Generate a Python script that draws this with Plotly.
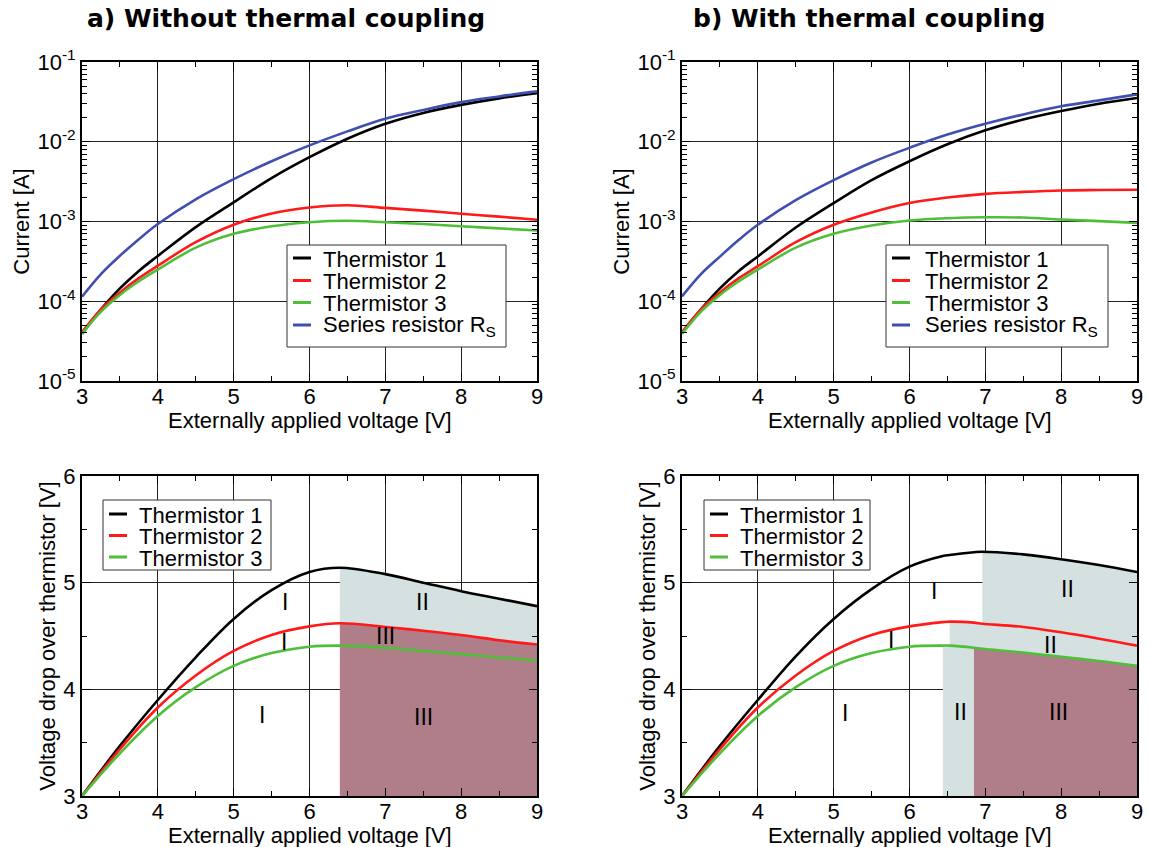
import plotly.graph_objects as go

# ---------------- data ----------------
v_top = [3, 3.25, 3.5, 3.75, 4, 4.5, 5, 5.5, 6, 6.5, 7, 7.5, 8, 8.5, 9]

# a) without thermal coupling: currents [A]
ia_t1 = [3.9e-5, 7.9e-5, 1.45e-4, 2.4e-4, 3.7e-4, 8.5e-4, 1.74e-3, 3.5e-3, 6.4e-3, 1.09e-2, 1.68e-2, 2.3e-2, 2.9e-2, 3.5e-2, 4.07e-2]
ia_t2 = [4.1e-5, 7.9e-5, 1.29e-4, 1.95e-4, 2.79e-4, 5.5e-4, 9.1e-4, 1.26e-3, 1.5e-3, 1.6e-3, 1.48e-3, 1.37e-3, 1.25e-3, 1.15e-3, 1.05e-3]
ia_t3 = [3.9e-5, 7.4e-5, 1.2e-4, 1.78e-4, 2.5e-4, 4.7e-4, 7.0e-4, 8.7e-4, 9.8e-4, 1.02e-3, 9.8e-4, 9.3e-4, 8.7e-4, 8.2e-4, 7.7e-4]
ia_rs = [1.14e-4, 2.19e-4, 3.72e-4, 6.0e-4, 9.3e-4, 1.9e-3, 3.4e-3, 5.7e-3, 9.0e-3, 1.35e-2, 1.94e-2, 2.5e-2, 3.14e-2, 3.7e-2, 4.28e-2]

# b) with thermal coupling: currents [A]
ib_t1 = [4.0e-5, 7.9e-5, 1.45e-4, 2.4e-4, 3.65e-4, 8.4e-4, 1.7e-3, 3.3e-3, 5.7e-3, 9.3e-3, 1.39e-2, 1.9e-2, 2.43e-2, 3.0e-2, 3.54e-2]
ib_t2 = [4.1e-5, 7.9e-5, 1.29e-4, 1.95e-4, 2.75e-4, 5.5e-4, 9.1e-4, 1.3e-3, 1.71e-3, 2.0e-3, 2.22e-3, 2.35e-3, 2.45e-3, 2.48e-3, 2.5e-3]
ib_t3 = [3.9e-5, 7.4e-5, 1.2e-4, 1.78e-4, 2.5e-4, 4.7e-4, 7.0e-4, 8.9e-4, 1.03e-3, 1.1e-3, 1.13e-3, 1.12e-3, 1.06e-3, 1.01e-3, 9.6e-4]
ib_rs = [1.15e-4, 2.19e-4, 3.63e-4, 5.9e-4, 9.1e-4, 1.85e-3, 3.3e-3, 5.5e-3, 8.4e-3, 1.23e-2, 1.68e-2, 2.2e-2, 2.78e-2, 3.3e-2, 3.93e-2]

# a) voltage drop over thermistor [V]
v_a = [3, 3.5, 4, 4.5, 5, 5.5, 6, 6.4, 7, 7.5, 8, 8.5, 9]
ua_t1 = [3.0, 3.47, 3.90, 4.30, 4.66, 4.93, 5.10, 5.14, 5.08, 5.00, 4.92, 4.85, 4.78]
ua_t2 = [3.0, 3.44, 3.83, 4.13, 4.36, 4.51, 4.59, 4.62, 4.585, 4.55, 4.51, 4.46, 4.42]
ua_t3 = [3.0, 3.40, 3.75, 4.02, 4.22, 4.34, 4.40, 4.41, 4.39, 4.36, 4.33, 4.30, 4.27]
a_start = 6.4  # onset of regions II / III (all thermistors)

# b) voltage drop over thermistor [V]
v_b = [3, 3.5, 4, 4.5, 5, 5.5, 6, 6.44, 6.53, 6.85, 6.96, 7.5, 8, 8.5, 9]
ub_t1 = [3.0, 3.47, 3.90, 4.31, 4.66, 4.94, 5.15, 5.25, 5.26, 5.285, 5.29, 5.265, 5.22, 5.165, 5.10]
ub_t2 = [3.0, 3.44, 3.83, 4.13, 4.36, 4.51, 4.59, 4.63, 4.635, 4.625, 4.615, 4.585, 4.535, 4.475, 4.41]
ub_t3 = [3.0, 3.40, 3.75, 4.02, 4.22, 4.34, 4.40, 4.41, 4.41, 4.39, 4.38, 4.345, 4.305, 4.265, 4.22]
b_t1_II = 6.96
b_t2_II = 6.53
b_t3_II = 6.44
b_t3_III = 6.85

names = ["Thermistor 1", "Thermistor 2", "Thermistor 3", "Series resistor R<sub>S</sub>"]
colors = ["#000000", "#ff1a1a", "#4fbf3a", "#3f4faf"]
col_II = "#d5e0e0"
col_III = "#b07e88"

log_vals = [1e-5, 1e-4, 1e-3, 1e-2, 1e-1]
log_text = ["10<sup>-5</sup>", "10<sup>-4</sup>", "10<sup>-3</sup>", "10<sup>-2</sup>", "10<sup>-1</sup>"]
log_minor = [m * 10 ** e for e in range(-5, -1) for m in range(2, 10)]

# region labels: (x, y, text)
lab_a = [(5.68, 4.82, "I"), (5.67, 4.44, "I"), (5.38, 3.76, "I"),
         (7.49, 4.82, "II"), (7.0, 4.50, "III"), (7.5, 3.74, "III")]
lab_b = [(6.32, 4.92, "I"), (8.08, 4.94, "II"), (5.75, 4.46, "I"), (7.86, 4.42, "II"),
         (5.15, 3.78, "I"), (6.67, 3.79, "II"), (7.97, 3.79, "III")]

W, H = 1150, 847
FONT = "Liberation Sans, Arial, sans-serif"

fig = go.Figure()


def sub(xs, ys, x0, x1=99):
    pts = [(x, y) for x, y in zip(xs, ys) if x0 - 1e-9 <= x <= x1 + 1e-9]
    return [p[0] for p in pts], [p[1] for p in pts]


def fill_trace(xs, ys, xa, ya, fill=None, color=None):
    fig.add_trace(go.Scatter(x=xs, y=ys, xaxis=xa, yaxis=ya, mode="lines",
                             line=dict(width=0, shape="spline", color="rgba(0,0,0,0)"),
                             fill=fill if fill else "none", fillcolor=color,
                             showlegend=False, hoverinfo="skip"))


# ----- top panels -----
for xa, ya, series in [("x", "y", [ia_t1, ia_t2, ia_t3, ia_rs]),
                       ("x2", "y2", [ib_t1, ib_t2, ib_t3, ib_rs])]:
    for s, n, c in zip(series, names, colors):
        fig.add_trace(go.Scatter(x=v_top, y=s, xaxis=xa, yaxis=ya, mode="lines", name=n,
                                 line=dict(color=c, width=2.6, shape="spline"), showlegend=False))

# ----- bottom-left fills -----
xs, ys = sub(v_a, ua_t2, a_start)
fill_trace(xs, ys, "x3", "y3", "tozeroy", col_III)
xs, ys = sub(v_a, ua_t1, a_start)
fill_trace(xs, ys, "x3", "y3", "tonexty", col_II)

# ----- bottom-right fills -----
xs, ys = sub(v_b, ub_t3, b_t3_II, b_t3_III)
fill_trace(xs, ys, "x4", "y4", "tozeroy", col_II)
xs, ys = sub(v_b, ub_t3, b_t3_III)
fill_trace(xs, ys, "x4", "y4", "tozeroy", col_III)
xs, ys = sub(v_b, ub_t3, b_t2_II)
fill_trace(xs, ys, "x4", "y4")
xs, ys = sub(v_b, ub_t2, b_t2_II)
fill_trace(xs, ys, "x4", "y4", "tonexty", col_II)
xs, ys = sub(v_b, ub_t2, b_t1_II)
fill_trace(xs, ys, "x4", "y4")
xs, ys = sub(v_b, ub_t1, b_t1_II)
fill_trace(xs, ys, "x4", "y4", "tonexty", col_II)

# ----- bottom lines -----
for xa, ya, vx, series in [("x3", "y3", v_a, [ua_t1, ua_t2, ua_t3]),
                           ("x4", "y4", v_b, [ub_t1, ub_t2, ub_t3])]:
    for s, n, c in zip(series, names, colors):
        fig.add_trace(go.Scatter(x=vx, y=s, xaxis=xa, yaxis=ya, mode="lines", name=n,
                                 line=dict(color=c, width=2.6, shape="spline"), showlegend=False))

# ----- axes -----
xdom = [[82 / W, 537 / W], [682 / W, 1137 / W]]
ydom_top = [1 - 381 / H, 1 - 62 / H]
ydom_bot = [1 - 796 / H, 1 - 476 / H]

common = dict(showline=True, linecolor="black", linewidth=2, mirror="ticks",
              ticks="inside", ticklen=8, tickwidth=1, tickcolor="black",
              showgrid=True, gridcolor="#222222", gridwidth=1, zeroline=False,
              automargin=False,
              tickfont=dict(family=FONT, size=22, color="black"))

TF = dict(family=FONT, size=22, color="black")
xaxis_kw = dict(range=[3, 9], tickvals=[3, 4, 5, 6, 7, 8, 9], ticklabelstandoff=-5,
                minor=dict(ticks="inside", ticklen=5, tickcolor="black", dtick=0.5, showgrid=False),
                **common)

layout = dict(width=W, height=H, margin=dict(l=0, r=0, t=0, b=0, autoexpand=False),
              plot_bgcolor="white", paper_bgcolor="white", showlegend=False,
              font=dict(family=FONT, color="black"))

layout["xaxis"] = dict(domain=xdom[0], anchor="y", **xaxis_kw)
layout["xaxis2"] = dict(domain=xdom[1], anchor="y2", **xaxis_kw)
layout["xaxis3"] = dict(domain=xdom[0], anchor="y3", **xaxis_kw)
layout["xaxis4"] = dict(domain=xdom[1], anchor="y4", **xaxis_kw)

ylog_kw = dict(type="log", range=[-5, -1], tickvals=log_vals, ticktext=log_text,
               minor=dict(ticks="inside", ticklen=5, tickcolor="black", tickvals=log_minor, showgrid=False),
               title=dict(text="Current [A]", font=TF, standoff=2), **common)
ylin_kw = dict(range=[3, 6], tickvals=[3, 4, 5, 6],
               minor=dict(ticks="inside", ticklen=5, tickcolor="black", dtick=0.5, showgrid=False),
               title=dict(text="Voltage drop over thermistor [V]", font=TF, standoff=2), **common)

layout["yaxis"] = dict(domain=ydom_top, anchor="x", **ylog_kw)
layout["yaxis2"] = dict(domain=ydom_top, anchor="x2", **ylog_kw)
layout["yaxis3"] = dict(domain=ydom_bot, anchor="x3", **ylin_kw)
layout["yaxis4"] = dict(domain=ydom_bot, anchor="x4", **ylin_kw)

fig.update_layout(**layout)

# ----- legends (box, line samples and labels), one per panel -----
legends = [
    # (box l, t, r, b), row centres, sample x0, x1, text x, number of entries
    ((287, 245, 506, 347), [258, 280.5, 302.5, 325], 293, 311, 321, 4),
    ((886, 245, 1108, 347), [258, 280.5, 302.5, 325], 892, 910, 923, 4),
    ((103, 500, 271, 570), [514, 535.5, 557], 109, 127, 137, 3),
    ((704, 500, 870, 570), [514, 535.5, 557], 710, 728, 738, 3),
]
shapes = []
anns = []
for (l, t, r, b), rows, s0, s1, tx, n in legends:
    shapes.append(dict(type="rect", xref="paper", yref="paper", x0=l / W, x1=r / W,
                       y0=1 - b / H, y1=1 - t / H, line=dict(color="#333333", width=1),
                       fillcolor="white", layer="above"))
    for i in range(n):
        yy = 1 - rows[i] / H
        shapes.append(dict(type="line", xref="paper", yref="paper", x0=s0 / W, x1=s1 / W,
                           y0=yy, y1=yy, line=dict(color=colors[i], width=3), layer="above"))
        anns.append(dict(text=names[i], x=tx / W, y=1 - (rows[i] + 1) / H, xref="paper", yref="paper",
                         xanchor="left", yanchor="middle", showarrow=False,
                         font=dict(family=FONT, size=22, color="black")))

# x-axis titles (placed below the tick labels of each panel)
for cx, cy in [(309.5, 420), (909.5, 420), (309.5, 835), (909.5, 835)]:
    anns.append(dict(text="Externally applied voltage [V]", x=cx / W, y=1 - cy / H, xref="paper", yref="paper",
                     xanchor="center", yanchor="middle", showarrow=False, font=TF))

anns += [dict(text="<b>a) Without thermal coupling</b>", x=286 / W, y=1 - 19 / H, xref="paper", yref="paper",
              xanchor="center", yanchor="middle", showarrow=False,
              font=dict(family="DejaVu Sans", size=25, color="black")),
         dict(text="<b>b) With thermal coupling</b>", x=869 / W, y=1 - 19 / H, xref="paper", yref="paper",
              xanchor="center", yanchor="middle", showarrow=False,
              font=dict(family="DejaVu Sans", size=25, color="black"))]
for xa, ya, labs in [("x3", "y3", lab_a), ("x4", "y4", lab_b)]:
    for x, y, t in labs:
        anns.append(dict(text=t, x=x, y=y, xref=xa, yref=ya, showarrow=False,
                         xanchor="center", yanchor="middle",
                         font=dict(family=FONT, size=23, color="black")))
fig.update_layout(annotations=anns, shapes=shapes)

fig.write_html("out.html", config={"displayModeBar": False},
               post_script="document.body.style.margin='0px';document.body.style.overflow='hidden';")
